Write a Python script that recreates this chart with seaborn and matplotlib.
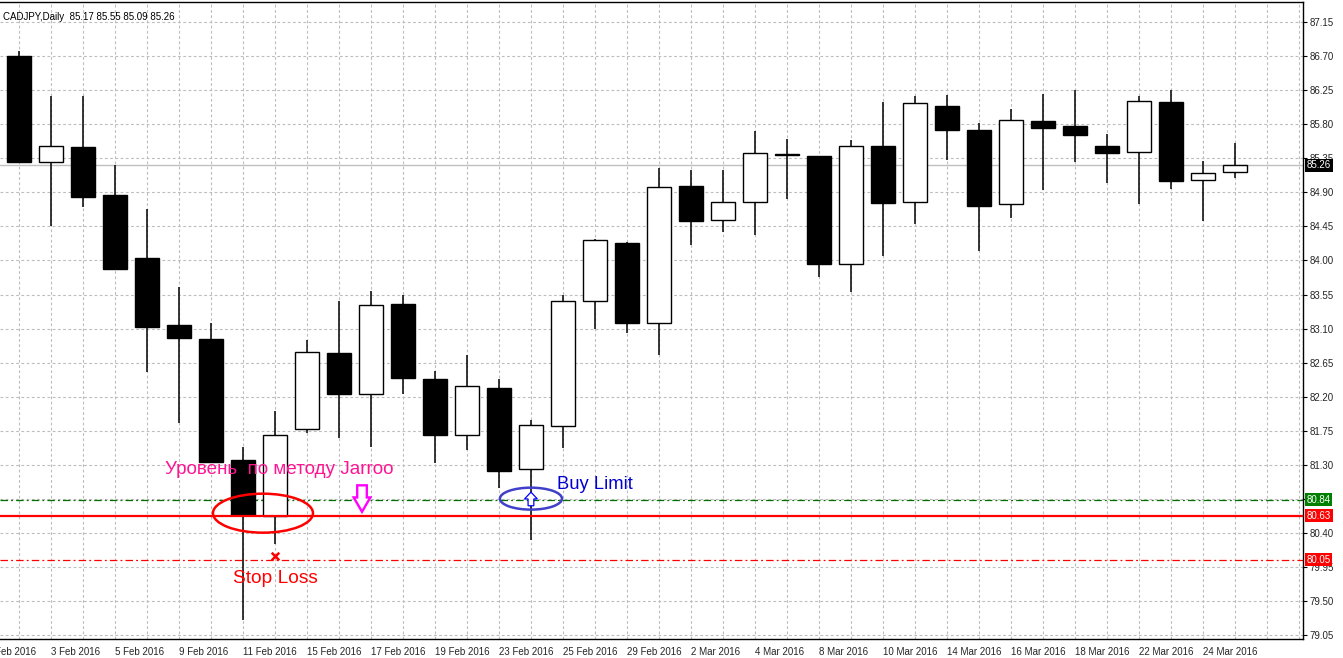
import numpy as np
import pandas as pd
import matplotlib
matplotlib.use("Agg")
import matplotlib.pyplot as plt
from matplotlib.patches import Ellipse, Polygon
import seaborn as sns

# daily CADJPY candles, 2 Feb - 25 Mar 2016
dates = ["2 Feb 2016", "3 Feb 2016", "4 Feb 2016", "5 Feb 2016", "8 Feb 2016", "9 Feb 2016",
         "10 Feb 2016", "11 Feb 2016", "12 Feb 2016", "15 Feb 2016", "16 Feb 2016", "17 Feb 2016",
         "18 Feb 2016", "19 Feb 2016", "22 Feb 2016", "23 Feb 2016", "24 Feb 2016", "25 Feb 2016",
         "26 Feb 2016", "29 Feb 2016", "1 Mar 2016", "2 Mar 2016", "3 Mar 2016", "4 Mar 2016",
         "7 Mar 2016", "8 Mar 2016", "9 Mar 2016", "10 Mar 2016", "11 Mar 2016", "14 Mar 2016",
         "15 Mar 2016", "16 Mar 2016", "17 Mar 2016", "18 Mar 2016", "21 Mar 2016", "22 Mar 2016",
         "23 Mar 2016", "24 Mar 2016", "25 Mar 2016"]
opens = [86.70, 85.30, 85.50, 84.86, 84.03, 83.15, 82.96, 81.36, 80.63, 81.78, 82.78, 82.24,
         83.42, 82.44, 81.69, 82.32, 81.24, 81.82, 83.46, 84.23, 83.17, 84.98, 84.53, 84.77,
         85.39, 85.38, 83.95, 85.51, 84.77, 86.04, 85.72, 84.74, 85.84, 85.78, 85.51, 85.43,
         86.09, 85.06, 85.17]
highs = [86.77, 86.17, 86.17, 85.26, 84.68, 83.65, 83.17, 81.54, 82.01, 82.95, 83.46, 83.60,
         83.54, 82.54, 82.75, 82.43, 81.89, 83.55, 84.29, 84.24, 85.22, 85.19, 85.19, 85.71,
         85.61, 85.38, 85.59, 86.09, 86.17, 86.19, 85.81, 86.00, 86.20, 86.25, 85.67, 86.17,
         86.25, 85.31, 85.55]
lows = [85.30, 84.45, 84.71, 83.89, 82.53, 81.85, 81.34, 79.25, 80.25, 81.72, 81.66, 81.54,
        82.23, 81.33, 81.49, 81.00, 80.31, 81.52, 83.09, 83.04, 82.75, 84.21, 84.37, 84.33,
        84.81, 83.78, 83.59, 84.06, 84.48, 85.33, 84.12, 84.56, 84.93, 85.30, 85.02, 84.75,
        84.95, 84.52, 85.09]
closes = [85.30, 85.51, 84.84, 83.89, 83.12, 82.97, 81.34, 80.64, 81.69, 82.79, 82.23, 83.41,
          82.45, 81.70, 82.34, 81.22, 81.83, 83.47, 84.27, 83.18, 84.97, 84.52, 84.77, 85.42,
          85.40, 83.95, 85.51, 84.76, 86.08, 85.72, 84.72, 85.85, 85.75, 85.66, 85.42, 86.10,
          85.05, 85.15, 85.26]

price_ticks = [79.05, 79.50, 79.95, 80.40, 80.85, 81.30, 81.75, 82.20, 82.65, 83.10, 83.55,
               84.00, 84.45, 84.90, 85.35, 85.80, 86.25, 86.70, 87.15]
price_labels = ["79.05", "79.50", "79.95", "80.40", "", "81.30", "81.75", "82.20", "82.65",
                "83.10", "83.55", "84.00", "84.45", "84.90", "85.35", "85.80", "86.25", "86.70",
                "87.15"]

last_price = 85.26
jarroo_level = 80.63
buy_limit = 80.84
stop_loss = 80.05
stop_mark_x = [8]
stop_mark_y = [80.09]

df = pd.DataFrame({"date": dates, "open": opens, "high": highs, "low": lows, "close": closes})
df["x"] = np.arange(len(df))
df["bull"] = df["close"] >= df["open"]

sns.set_style("white")
plt.rcParams["font.family"] = ["Liberation Sans", "DejaVu Sans"]

fig = plt.figure(figsize=(13.43, 6.58), dpi=100)
ax = fig.add_axes([0, 19 / 658, 1302.7 / 1343, 637 / 658])

# grid: every bar vertically, every price tick horizontally
grid_kw = dict(color="#bdbdbd", lw=0.8, dashes=(2.5, 2.2))
for gx in range(0, 41):
    ax.axvline(gx, zorder=0, **grid_kw)
for gy in price_ticks:
    ax.axhline(gy, zorder=0, **grid_kw)

# levels
ax.axhline(last_price, color="#c0c0c0", lw=1.0, zorder=1)
ax.axhline(buy_limit, color="#007000", lw=0.9, dashes=(6, 2.5, 1.5, 2.5), zorder=1)
ax.axhline(stop_loss, color="#ff0000", lw=0.9, dashes=(6, 2.5, 1.5, 2.5), zorder=1)
ax.axhline(jarroo_level, color="#ff0000", lw=1.6, zorder=4)

# candles
ax.vlines(df["x"], df["low"], df["high"], color="black", lw=1.1, zorder=2)
body_lo = df[["open", "close"]].min(axis=1)
body_h = (df["close"] - df["open"]).abs().clip(lower=0.004)
ax.bar(df["x"], body_h, bottom=body_lo, width=0.75,
       color=np.where(df["bull"], "white", "black"), edgecolor="black", lw=1.0, zorder=3)

# stop loss cross
sns.scatterplot(x=stop_mark_x, y=stop_mark_y, marker="x", s=30, color="#ff0000",
                linewidth=1.8, ax=ax, zorder=5, legend=False)

# ellipses
ax.add_patch(Ellipse((7.625, 80.662), 3.125, 0.515, fill=False, ec="#ff0000", lw=1.8, zorder=5))
ax.add_patch(Ellipse((16.0, 80.854), 1.94, 0.29, fill=False, ec="#4040c8", lw=1.8, zorder=5))


def hollow_arrow(x, y_tail, y_tip, shaft_half, head_half, head_len, color, lw):
    d = np.sign(y_tip - y_tail)
    y_head = y_tip - d * head_len
    pts = [(x - shaft_half, y_tail), (x + shaft_half, y_tail), (x + shaft_half, y_head),
           (x + head_half, y_head), (x, y_tip), (x - head_half, y_head), (x - shaft_half, y_head)]
    ax.add_patch(Polygon(pts, closed=True, fc="white", ec=color, lw=lw, zorder=6))


hollow_arrow(10.72, 81.03, 80.68, 0.15, 0.26, 0.19, "#ff00ff", 1.7)
hollow_arrow(16.0, 80.76, 80.94, 0.09, 0.2, 0.09, "#0000ff", 0.9)

# annotation texts
ax.text(4.56, 81.244, "Уровень  по методу Jarroo", color="#ff1493", fontsize=13.6,
        va="center", ha="left", zorder=7)
ax.text(16.81, 81.045, "Buy Limit", color="#0000d0", fontsize=13.2, va="center", ha="left", zorder=7)
ax.text(6.69, 79.80, "Stop Loss", color="#ff0000", fontsize=13.8, va="center", ha="left", zorder=7)

# header
ax.text(0.002, 0.985, "CADJPY,Daily  85.17 85.55 85.09 85.26", transform=ax.transAxes,
        fontsize=7, va="top", ha="left", color="black")

# axes
ax.set_xlim(-0.594, 40.12)
ax.set_ylim(79.0, 87.414)
ax.yaxis.tick_right()
ax.set_yticks(price_ticks)
ax.set_yticklabels(price_labels)
odd = list(range(1, len(dates), 2))
ax.set_xticks(odd)
ax.set_xticklabels([dates[i] for i in odd], ha="left")
ax.tick_params(axis="both", labelsize=7, length=3, width=0.8, color="black", pad=2)
ax.tick_params(axis="x", pad=3)
ax.text(-1, -0.012, "1 Feb 2016", transform=ax.get_xaxis_transform(), fontsize=7,
        ha="left", va="top", clip_on=False)

ax.spines["left"].set_visible(False)
for side in ["right", "bottom", "top"]:
    ax.spines[side].set_color("black")
    ax.spines[side].set_linewidth(1.0)

# price boxes on the right axis
boxes = [(last_price, "black"), (buy_limit, "#008000"), (jarroo_level, "#ff0000"), (stop_loss, "#ff0000")]
for val, col in boxes:
    ax.annotate(f"{val:.2f}", xy=(1, val), xycoords=("axes fraction", "data"),
                xytext=(3, 0), textcoords="offset points", ha="left", va="center",
                fontsize=7, color="white",
                bbox=dict(boxstyle="square,pad=0.15", fc=col, ec="none"),
                annotation_clip=False)

fig.savefig("out.png", dpi=100)
